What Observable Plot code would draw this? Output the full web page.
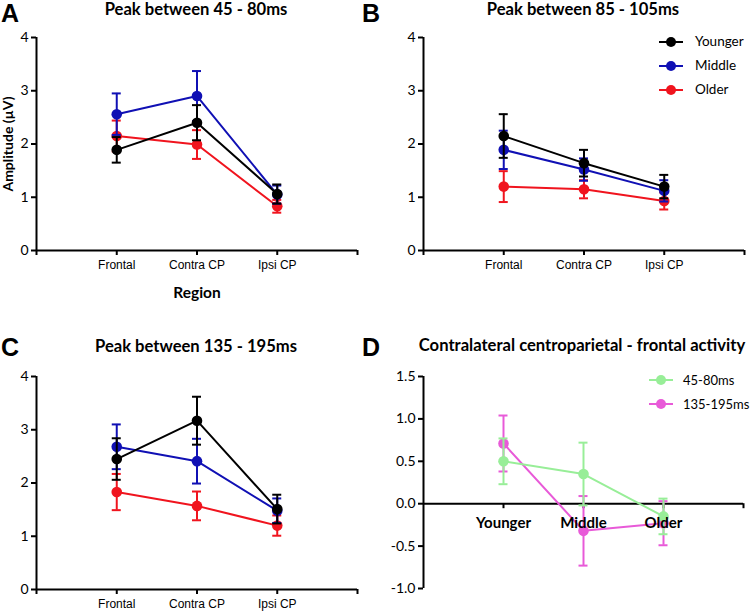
<!DOCTYPE html>
<html><head><meta charset="utf-8">
<script src="https://cdn.jsdelivr.net/npm/d3@7"></script>
<script src="https://cdn.jsdelivr.net/npm/@observablehq/plot@0.6"></script>
<style>
body{margin:0;background:#fff;}
#root{position:relative;width:750px;height:613px;overflow:hidden;background:#fff;}
.abs{position:absolute;white-space:nowrap;color:#000;line-height:1;}
.c{transform:translate(-50%,-50%);}
.title{font-family:Lato;font-weight:bold;font-size:16.6px;}
.letter{font-family:"Liberation Sans",Arial,sans-serif;font-weight:bold;font-size:25px;}
.leg{font-family:Lato;font-size:13.5px;transform:translateY(-50%);}
</style></head><body><div id="root"></div>
<script>
// ---------- data ----------
const regions = ["Frontal", "Contra CP", "Ipsi CP"];
const groups = ["Younger", "Middle", "Older"];
const groupColors = ["#000000", "#1010b4", "#f0141e"];

// Panel A: Peak between 45 - 80ms (mean, SEM)
const A_younger = [1.89, 2.40, 1.06], A_younger_sem = [0.24, 0.33, 0.18];
const A_middle  = [2.56, 2.90, 1.05], A_middle_sem  = [0.39, 0.47, 0.17];
const A_older   = [2.15, 1.99, 0.83], A_older_sem   = [0.29, 0.27, 0.12];

// Panel B: Peak between 85 - 105ms
const B_younger = [2.15, 1.64, 1.20], B_younger_sem = [0.41, 0.25, 0.22];
const B_middle  = [1.89, 1.52, 1.12], B_middle_sem  = [0.36, 0.21, 0.20];
const B_older   = [1.20, 1.15, 0.93], B_older_sem   = [0.29, 0.17, 0.16];

// Panel C: Peak between 135 - 195ms
const C_younger = [2.45, 3.17, 1.51], C_younger_sem = [0.39, 0.45, 0.27];
const C_middle  = [2.68, 2.41, 1.48], C_middle_sem  = [0.42, 0.42, 0.23];
const C_older   = [1.83, 1.57, 1.20], C_older_sem   = [0.34, 0.27, 0.19];

// Panel D: Contralateral centroparietal - frontal activity
const D_windows = ["45-80ms", "135-195ms"];
const D_colors = ["#98ee98", "#e85ad8"];
const D_early = [0.50, 0.35, -0.15], D_early_sem = [0.27, 0.37, 0.21];
const D_late  = [0.71, -0.32, -0.23], D_late_sem = [0.33, 0.41, 0.26];

const ampTicks = [0, 1, 2, 3, 4];
const diffTicks = [-1, -0.5, 0, 0.5, 1, 1.5];

// ---------- helpers ----------
const root = document.getElementById("root");
function rows(means, sems) {
  return means.map((m, i) => ({x: i + 1, mean: m, lo: m - sems[i], hi: m + sems[i]}));
}
function seriesMarks(data, color) {
  return [
    Plot.ruleX(data, {x: "x", y1: "lo", y2: "hi", stroke: color, strokeWidth: 2}),
    Plot.ruleY(data, {y: "hi", x1: "x", x2: "x", insetLeft: -4.5, insetRight: -4.5, stroke: color, strokeWidth: 2}),
    Plot.ruleY(data, {y: "lo", x1: "x", x2: "x", insetLeft: -4.5, insetRight: -4.5, stroke: color, strokeWidth: 2}),
    Plot.line(data, {x: "x", y: "mean", stroke: color, strokeWidth: 2}),
    Plot.dot(data, {x: "x", y: "mean", r: 5.3, fill: color})
  ];
}
function addText(txt, cls, x, y, extra) {
  const d = document.createElement("div");
  d.className = "abs " + cls;
  d.textContent = txt;
  d.style.left = x + "px"; d.style.top = y + "px";
  if (extra) Object.assign(d.style, extra);
  root.appendChild(d);
  return d;
}
function place(svg, left, top) {
  svg.style.position = "absolute";
  svg.style.left = left + "px";
  svg.style.top = top + "px";
  svg.style.maxWidth = "none";
  svg.style.background = "transparent";
  svg.style.overflow = "visible";
  root.appendChild(svg);
}
function ampPanel(left, top, height, mL, mT, mB, sets) {
  const svg = Plot.plot({
    width: 375, height, marginLeft: mL, marginRight: 375 - mL - 321, marginTop: mT, marginBottom: mB,
    x: {type: "linear", domain: [0, 4]},
    y: {domain: [0, 4]},
    style: {fontFamily: "Liberation Sans, Arial, sans-serif", fontSize: "12px", color: "#000"},
    marks: [
      Plot.axisY({ticks: ampTicks, tickSize: 5, tickPadding: 3, strokeWidth: 2, fontFamily: "Lato", fontSize: 14, tickFormat: d => String(d), label: null}),
      Plot.axisX({ticks: [0, 1, 2, 3, 4], tickSize: 5, tickPadding: 5, strokeWidth: 2, fontSize: 12, tickFormat: d => regions[d - 1] ?? "", label: null}),
      Plot.ruleX([0], {strokeWidth: 2}),
      Plot.ruleY([0], {strokeWidth: 2}),
      ...sets.flatMap(([m, s, c]) => seriesMarks(rows(m, s), c))
    ]
  });
  place(svg, left, top);
}

// ---------- panels ----------
ampPanel(0, 0, 310, 36, 37, 60, [[A_older, A_older_sem, groupColors[2]], [A_middle, A_middle_sem, groupColors[1]], [A_younger, A_younger_sem, groupColors[0]]]);
ampPanel(375, 0, 310, 48, 37, 60, [[B_older, B_older_sem, groupColors[2]], [B_middle, B_middle_sem, groupColors[1]], [B_younger, B_younger_sem, groupColors[0]]]);
ampPanel(0, 310, 303, 36, 66, 24, [[C_older, C_older_sem, groupColors[2]], [C_middle, C_middle_sem, groupColors[1]], [C_younger, C_younger_sem, groupColors[0]]]);

// Panel D
{
  const svg = Plot.plot({
    width: 375, height: 303, marginLeft: 48, marginRight: 7, marginTop: 66, marginBottom: 25,
    x: {type: "linear", domain: [0, 4], axis: null},
    y: {domain: [-1, 1.5]},
    style: {fontFamily: "Lato", fontSize: "14px", color: "#000"},
    marks: [
      Plot.axisY({ticks: diffTicks, tickSize: 5, tickPadding: 3, strokeWidth: 2, fontFamily: "Lato", fontSize: 14, tickFormat: d => d.toFixed(1), label: null}),
      Plot.ruleX([0], {strokeWidth: 2}),
      Plot.ruleY([0], {strokeWidth: 2}),
      Plot.ruleX([1, 2, 3, 4], {x: d => d, y1: d => 0, y2: d => 0, insetBottom: -5, strokeWidth: 2}),
      ...seriesMarks(rows(D_late, D_late_sem), D_colors[1]),
      ...seriesMarks(rows(D_early, D_early_sem), D_colors[0]),
      Plot.text(groups, {x: (d, i) => i + 1, y: d => 0, dy: 19, text: d => d, fontWeight: "bold", fontFamily: "Lato", fontSize: 15})
    ]
  });
  place(svg, 375, 310);
}

// ---------- titles, letters, axis labels ----------
addText("A", "letter", 1, 1);
addText("B", "letter", 362, 1);
addText("C", "letter", 1, 335);
addText("D", "letter", 362, 335);
addText("Peak between 45 - 80ms", "title c", 196, 9);
addText("Peak between 85 - 105ms", "title c", 583, 9);
addText("Peak between 135 - 195ms", "title c", 196, 346);
addText("Contralateral centroparietal - frontal activity", "title c", 582, 345);
addText("Region", "title c", 197, 293, {fontSize: "15.5px"});
addText("Amplitude (\u00b5V)", "title", 8, 144, {transform: "translate(-50%,-50%) rotate(-90deg)", fontSize: "14px"});

// ---------- legends ----------
function legend(names, colors, x0, ys, gap, fs) {
  names.forEach((n, i) => {
    const ns = "http://www.w3.org/2000/svg";
    const s = document.createElementNS(ns, "svg");
    s.setAttribute("width", 26); s.setAttribute("height", 12);
    s.style.position = "absolute"; s.style.left = x0 + "px"; s.style.top = (ys[i] - 6) + "px";
    const l = document.createElementNS(ns, "line");
    l.setAttribute("x1", 1); l.setAttribute("x2", 25); l.setAttribute("y1", 6); l.setAttribute("y2", 6);
    l.setAttribute("stroke", colors[i]); l.setAttribute("stroke-width", 2);
    const c = document.createElementNS(ns, "circle");
    c.setAttribute("cx", 13); c.setAttribute("cy", 6); c.setAttribute("r", 5); c.setAttribute("fill", colors[i]);
    s.appendChild(l); s.appendChild(c); root.appendChild(s);
    addText(n, "leg", x0 + gap, ys[i], {fontSize: fs + "px"});
  });
}
legend(groups, groupColors, 658, [41.5, 65.5, 89.5], 37, 13.5);
legend(D_windows, D_colors, 648, [380, 404], 35, 13);
</script></body></html>
